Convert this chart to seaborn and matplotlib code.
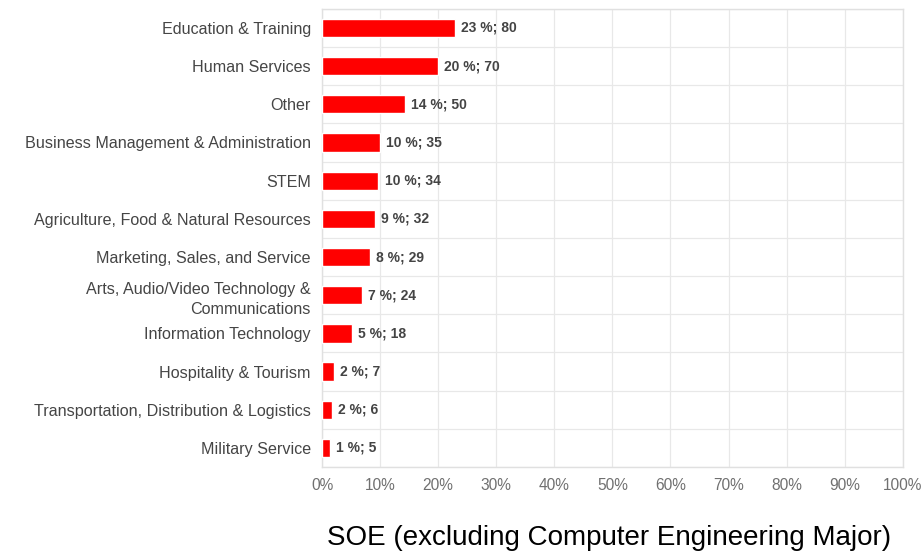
import numpy as np
import pandas as pd
import matplotlib
matplotlib.use("Agg")
import matplotlib.pyplot as plt
import seaborn as sns

# --- chart data ---
categories = [
    "Education & Training",
    "Human Services",
    "Other",
    "Business Management & Administration",
    "STEM",
    "Agriculture, Food & Natural Resources",
    "Marketing, Sales, and Service",
    "Arts, Audio/Video Technology &\nCommunications",
    "Information Technology",
    "Hospitality & Tourism",
    "Transportation, Distribution & Logistics",
    "Military Service",
]
percent = [22.9, 20.0, 14.3, 10.0, 9.7, 9.1, 8.3, 6.9, 5.1, 2.0, 1.7, 1.4]
pct_labels = [23, 20, 14, 10, 10, 9, 8, 7, 5, 2, 2, 1]
counts = [80, 70, 50, 35, 34, 32, 29, 24, 18, 7, 6, 5]
x_ticks = list(range(0, 101, 10))

df = pd.DataFrame({"Category": categories, "Percent": percent})

sns.set_theme(style="white")
plt.rcParams["font.family"] = ["Liberation Sans", "DejaVu Sans"]

fig = plt.figure(figsize=(9.24, 5.54), dpi=100)
ax = fig.add_axes([0.3485, 0.157, 0.6285, 0.827])

sns.barplot(data=df, x="Percent", y="Category", orient="h", color="#ff0000",
            saturation=1, width=0.48, ax=ax, zorder=3)

ax.set_xlim(0, 100)
ax.set_ylim(len(categories) - 0.5, -0.5)
ax.set_xticks(x_ticks)
ax.set_xticklabels([f"{t}%" for t in x_ticks])
ax.set_xlabel("")
ax.set_ylabel("")

# grid: vertical at each 10%, horizontal between categories
ax.set_yticks(np.arange(len(categories) + 1) - 0.5, minor=True)
ax.grid(axis="x", which="major", color="#e8e8e8", linewidth=0.9, zorder=0)
ax.grid(axis="y", which="minor", color="#e8e8e8", linewidth=0.9, zorder=0)
ax.tick_params(axis="y", which="minor", length=6, color="#e8e8e8", width=0.9)
ax.tick_params(axis="y", which="major", length=0, pad=8, labelsize=11.6, labelcolor="#454545")
ax.tick_params(axis="x", length=0, pad=8, labelsize=11.2, labelcolor="#707070")
for lbl in ax.get_yticklabels():
    lbl.set_linespacing(1.4)

for side in ["top", "right", "left", "bottom"]:
    ax.spines[side].set_color("#e0e0e0")
    ax.spines[side].set_linewidth(1.0)

for i, (p, c, v) in enumerate(zip(pct_labels, counts, percent)):
    ax.annotate(f"{p} %; {c}", (v, i), xytext=(4.5, 0), textcoords="offset points",
                ha="left", va="center", fontsize=10, fontweight="bold", color="#444444")

fig.text(0.659, 0.006, "SOE (excluding Computer Engineering Major)", ha="center",
         va="bottom", fontsize=20, color="#000000")

fig.savefig("out.png", dpi=100)
